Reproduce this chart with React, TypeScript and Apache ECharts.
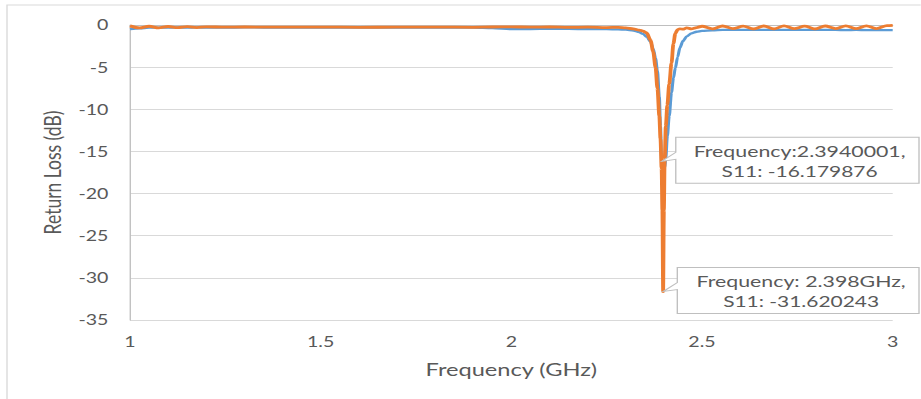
import React, { useEffect, useRef } from "react";
import * as echarts from "echarts";

const freqGHz = [
  1.0, 1.025, 1.05, 1.075, 1.1, 1.125, 1.15, 1.175, 1.2, 1.25,
  1.3, 1.4, 1.5, 1.6, 1.7, 1.8, 1.9, 1.95, 2.0, 2.05,
  2.1, 2.15, 2.2, 2.25, 2.28, 2.3, 2.32, 2.335, 2.345, 2.355,
  2.365, 2.372, 2.378, 2.383, 2.388, 2.391, 2.394, 2.396, 2.398, 2.4,
  2.402, 2.405, 2.409, 2.414, 2.42, 2.425, 2.43, 2.436, 2.442, 2.45,
  2.46, 2.472, 2.486, 2.5, 2.527, 2.554, 2.581, 2.608, 2.635, 2.662,
  2.689, 2.715, 2.742, 2.769, 2.796, 2.823, 2.85, 2.877, 2.904, 2.931,
  2.958, 2.985, 3.0,
];

const s11Blue = [
  -0.5, -0.4, -0.32, -0.3, -0.3, -0.29, -0.3, -0.29, -0.3, -0.3,
  -0.29, -0.3, -0.3, -0.31, -0.3, -0.31, -0.32, -0.38, -0.5, -0.48,
  -0.46, -0.47, -0.48, -0.5, -0.52, -0.55, -0.65, -0.85, -1.05, -1.4,
  -2.0, -2.8, -3.9, -5.4, -8.5, -12.0, -16.179876, -16.9, -17.2, -17.3,
  -17.0, -15.8, -13.2, -10.8, -8.0, -6.3, -5.1, -3.8, -2.7, -1.9,
  -1.35, -1.0, -0.8, -0.7, -0.62, -0.58, -0.57, -0.58, -0.57, -0.58,
  -0.57, -0.58, -0.59, -0.58, -0.59, -0.58, -0.59, -0.6, -0.59, -0.6,
  -0.6, -0.6, -0.6,
];

const s11Orange = [
  -0.1, -0.35, -0.15, -0.34, -0.18, -0.32, -0.2, -0.3, -0.22, -0.26,
  -0.24, -0.26, -0.25, -0.27, -0.26, -0.25, -0.27, -0.24, -0.22, -0.25,
  -0.24, -0.28, -0.26, -0.3, -0.28, -0.33, -0.45, -0.6, -0.72, -0.95,
  -1.8, -3.2, -5.0, -7.5, -10.8, -13.5, -17.0, -22.0, -31.620243, -22.0,
  -16.0, -12.0, -9.5, -7.0, -4.5, -2.2, -1.0, -0.55, -0.45, -0.5,
  -0.35, -0.45, -0.3, -0.15, -0.45, -0.12, -0.44, -0.13, -0.46, -0.12,
  -0.45, -0.11, -0.44, -0.13, -0.45, -0.12, -0.43, -0.11, -0.44, -0.1,
  -0.42, -0.08, -0.05,
];

const yTicks = { min: -35, max: 0, interval: 5 };
const xTicks = { min: 1, max: 3, interval: 0.5 };

const callouts = [
  { series: 0, f: 2.394, v: -16.179876, line1: "Frequency:2.3940001,", line2: "S11: -16.179876" },
  { series: 1, f: 2.398, v: -31.620243, line1: "Frequency: 2.398GHz,", line2: "S11: -31.620243" },
];

const S = 1.35; // horizontal stretch of the reference picture
const W = 921;
const H = 399;
const FONT = "Lato";
const GRAY = "#595959";

export default function App() {
  const ref = useRef<HTMLDivElement | null>(null);
  useEffect(() => {
    if (!ref.current) return;
    const chart = echarts.init(ref.current, null, { renderer: "svg" });
    const iw = W / S;
    const toData = (xs: number[], ys: number[]) => xs.map((x, i) => [x, ys[i]]);
    chart.setOption({
      animation: false,
      backgroundColor: "#ffffff",
      grid: { left: 130 / S, right: iw - 893 / S, top: 25, bottom: H - 320 },
      xAxis: {
        type: "value",
        min: xTicks.min,
        max: xTicks.max,
        interval: xTicks.interval,
        name: "Frequency (GHz)",
        nameLocation: "middle",
        nameGap: 40,
        nameTextStyle: { color: GRAY, fontSize: 17.5, fontFamily: FONT },
        axisLine: { show: true, lineStyle: { color: "#bfbfbf", width: 1 } },
        axisTick: { show: false },
        axisLabel: { color: GRAY, fontSize: 14.5, fontFamily: FONT, margin: 14 },
        splitLine: { show: false },
      },
      yAxis: {
        type: "value",
        min: yTicks.min,
        max: yTicks.max,
        interval: yTicks.interval,
        name: "Return Loss (dB)",
        nameLocation: "middle",
        nameGap: 45,
        nameTextStyle: { color: GRAY, fontSize: 17.5, fontFamily: FONT },
        axisLine: { show: true, lineStyle: { color: "#bfbfbf", width: 1 } },
        axisTick: { show: false },
        axisLabel: { color: GRAY, fontSize: 14.5, fontFamily: FONT, margin: 16 },
        splitLine: { show: true, lineStyle: { color: "#d9d9d9", width: 1 } },
      },
      series: [
        {
          type: "line",
          data: toData(freqGHz, s11Blue),
          showSymbol: false,
          smooth: 0.3,
          smoothMonotone: "x",
          lineStyle: { color: "#5B9BD5", width: 2.3 },
          z: 2,
        },
        {
          type: "line",
          data: toData(freqGHz, s11Orange),
          showSymbol: false,
          smooth: 0.3,
          smoothMonotone: "x",
          lineStyle: { color: "#ED7D31", width: 2.8 },
          z: 3,
        },
      ],
    });

    const elements: any[] = [
      {
        type: "rect",
        shape: { x: 7 / S, y: 5, width: 2000, height: 2000 },
        style: { fill: "none", stroke: "#d9d9d9", lineWidth: 1 },
        silent: true,
        z: 0,
      },
    ];
    callouts.forEach((c) => {
      const p = chart.convertToPixel({ seriesIndex: c.series }, [c.f, c.v]) as number[];
      const px = p[0];
      const py = p[1];
      const L = px + 10.5;
      const R = 919 / S;
      const T = py - 24;
      const B = py + 22;
      elements.push({
        type: "polygon",
        shape: {
          points: [
            [L, T], [R, T], [R, B], [L, B], [L, py - 2], [px, py], [L, py - 9],
          ],
        },
        style: { fill: "#ffffff", stroke: "#bfbfbf", lineWidth: 1 },
        z: 100,
      });
      const cx = px + 138 / S;
      elements.push({
        type: "text",
        x: cx,
        y: py - 11,
        style: {
          text: c.line1, fill: GRAY, fontSize: 15.8, fontFamily: FONT,
          align: "center", verticalAlign: "middle",
          textAlign: "center", textVerticalAlign: "middle",
        },
        z: 101,
      });
      elements.push({
        type: "text",
        x: cx,
        y: py + 10,
        style: {
          text: c.line2, fill: GRAY, fontSize: 15.5, fontFamily: FONT,
          align: "center", verticalAlign: "middle",
          textAlign: "center", textVerticalAlign: "middle",
        },
        z: 101,
      });
    });
    chart.setOption({ graphic: { elements } });
    return () => chart.dispose();
  }, []);

  return (
    <div style={{ position: "fixed", left: 0, top: 0, width: W, height: H, overflow: "hidden", background: "#fff" }}>
      <div
        ref={ref}
        style={{ width: W / S, height: H, transform: `scaleX(${S})`, transformOrigin: "0 0" }}
      />
    </div>
  );
}
